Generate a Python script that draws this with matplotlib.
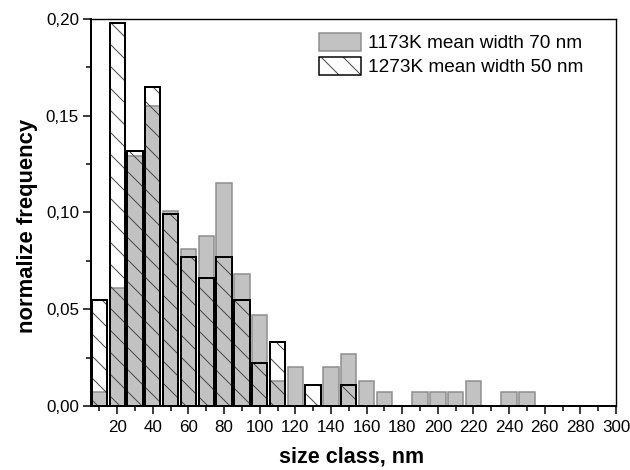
import matplotlib
matplotlib.use('Agg')
import matplotlib.pyplot as plt
import numpy as np
from matplotlib.patches import Patch
from matplotlib.ticker import MultipleLocator, FuncFormatter

# size classes (bar centres, nm)
size_class = [10, 20, 30, 40, 50, 60, 70, 80, 90, 100, 110, 120, 130,
              140, 150, 160, 170, 180, 190, 200, 210, 220, 230, 240, 250]
# 1173K, mean width 70 nm
freq_1173 = [0.007, 0.061, 0.129, 0.155, 0.101, 0.081, 0.088, 0.115, 0.068, 0.047,
             0.013, 0.020, 0.0, 0.020, 0.027, 0.013, 0.007, 0.0, 0.007, 0.007,
             0.007, 0.013, 0.0, 0.007, 0.007]
# 1273K, mean width 50 nm
freq_1273 = [0.055, 0.198, 0.132, 0.165, 0.099, 0.077, 0.066, 0.077, 0.055, 0.022,
             0.033, 0.0, 0.011, 0.0, 0.011, 0.0, 0.0, 0.0, 0.0, 0.0,
             0.0, 0.0, 0.0, 0.0, 0.0]
labels = ['1173K mean width 70 nm', '1273K mean width 50 nm']

# dpi chosen so the default hatch spacing matches the original (~11 px)
DPI = 66
W, H = 630, 470

def pt(px):
    # pixel size -> points at this dpi
    return px * 72 / DPI

plt.rcParams['font.family'] = ['Liberation Sans', 'DejaVu Sans']
plt.rcParams['hatch.linewidth'] = pt(1.0)

fig = plt.figure(figsize=(W / DPI, H / DPI), dpi=DPI)
ax = fig.add_axes([91 / W, 1 - 406 / H, (616 - 91) / W, (406 - 19) / H])

x = np.array(size_class)
g = np.array(freq_1173)
h = np.array(freq_1273)
bw = 8.6

mg = g > 0
ax.bar(x[mg], g[mg], width=bw, color='#c2c2c2', edgecolor='#8c8c8c',
       linewidth=pt(1.5), zorder=1)
mh = h > 0
ax.bar(x[mh], h[mh], width=bw, facecolor='none', edgecolor='#4a4a4a',
       hatch='\\', linewidth=0, zorder=2)
ax.bar(x[mh], h[mh], width=bw, facecolor='none', edgecolor='black',
       linewidth=pt(2.0), zorder=3)

ax.set_xlim(5.3, 300)
ax.set_ylim(0, 0.2)
ax.xaxis.set_major_locator(MultipleLocator(20))
ax.xaxis.set_minor_locator(MultipleLocator(10))
ax.yaxis.set_major_locator(MultipleLocator(0.05))
ax.yaxis.set_minor_locator(MultipleLocator(0.025))
ax.xaxis.set_major_formatter(FuncFormatter(lambda v, p: f'{v:.0f}'))
ax.yaxis.set_major_formatter(FuncFormatter(lambda v, p: f'{v:.2f}'.replace('.', ',')))

ax.tick_params(which='major', direction='out', length=pt(8), width=pt(1.5),
               labelsize=pt(17))
ax.tick_params(axis='x', which='major', pad=pt(6))
ax.tick_params(axis='y', which='major', pad=pt(4))
ax.tick_params(which='minor', direction='out', length=pt(5), width=pt(1.5))
ax.tick_params(top=False, right=False, which='both')

for s in ['left', 'bottom']:
    ax.spines[s].set_linewidth(pt(2.0))
for s in ['top', 'right']:
    ax.spines[s].set_linewidth(pt(1.4))

ax.set_xlabel('size class, nm', fontsize=pt(21.5), fontweight='bold')
ax.set_ylabel('normalize frequency', fontsize=pt(22), fontweight='bold')
ax.xaxis.set_label_coords((352 - 91) / (616 - 91), -(446 - 406) / (406 - 19))
ax.yaxis.set_label_coords(-(91 - 38) / (616 - 91), (406 - 226) / (406 - 19))

# legend proxies: gray patch, and hatch + black outline overlaid
p_gray = Patch(facecolor='#c2c2c2', edgecolor='#8c8c8c', linewidth=pt(1.5))
p_hatch = Patch(facecolor='white', edgecolor='#4a4a4a', hatch='\\', linewidth=0)
p_edge = Patch(facecolor='none', edgecolor='black', linewidth=pt(1.5))
ax.legend([p_gray, (p_hatch, p_edge)], labels, loc='upper left',
          bbox_to_anchor=(319 / W, 1 - 33 / H), bbox_transform=fig.transFigure,
          frameon=False, fontsize=pt(19.0), borderpad=0, borderaxespad=0,
          handlelength=2.2, handleheight=1.05, handletextpad=0.36,
          labelspacing=0.25)

fig.savefig('out.png', dpi=DPI)
